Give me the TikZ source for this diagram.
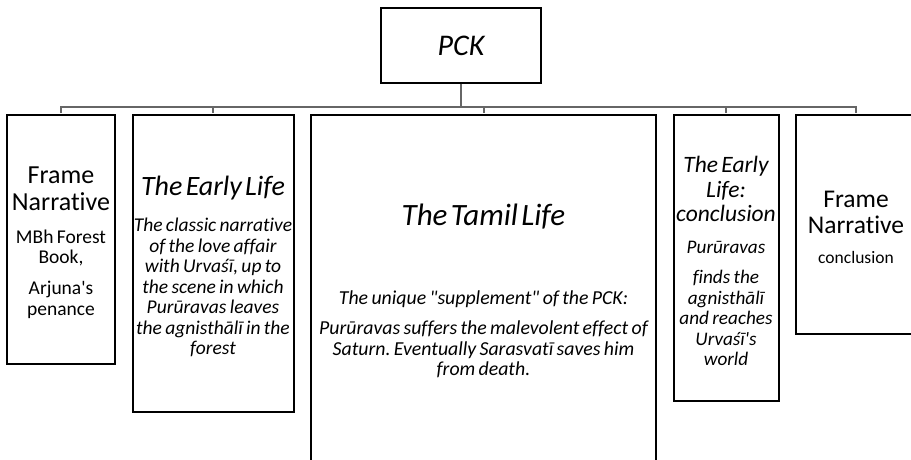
\documentclass[tikz,border=0pt]{standalone}
\usepackage{fontspec}
\setmainfont{Carlito}[Ligatures={TeXOff,CommonOff}]
\usetikzlibrary{positioning}
\newcommand{\sizeto}[2]{\fontsize{#1pt}{#2pt}\selectfont}
\frenchspacing
\tikzset{
    root/.style={draw, rectangle, line width=1.5pt, minimum width=160pt, minimum height=75pt, font=\sizeto{30}{34}\itshape},
    part/.style={draw, rectangle, line width=2pt, inner xsep=0pt, inner ysep=0pt, align=center, execute at end node={\par\vspace*{-6pt}}},
    link/.style={draw, line width=2pt, color=black!60}
}

\begin{document}
\begin{tikzpicture}[x=1pt, y=-1pt, node distance=15.5pt]
    \useasboundingbox (0,0) rectangle (911,459);
    \clip (0,0) rectangle (911,459);
    \node [root] (pck) at (461,45.5) {PCK};
    \node [part, minimum width=108pt, minimum height=249pt, text width=108pt, anchor=north west] (frame) at (6,114)
        {\sizeto{26}{27}Frame\\Narrative\par\vspace{12pt}\sizeto{19.5}{20.5}MBh Forest\\Book,\par\vspace{10.5pt}Arjuna's\\penance\par};
    \node [part, minimum width=161pt, minimum height=297pt, text width=161pt, right=of frame.north east, anchor=north west] (early)
        {\itshape\sizeto{28}{30}The Early Life\par\vspace{15.4pt}\sizeto{19.5}{20.5}The classic narrative\\of the love affair\\with Urvaśī, up to\\the scene in which\\Purūravas leaves\\the agnisthālī in the\\forest\par};
    \node [part, minimum width=345pt, minimum height=346pt, text width=345pt, right=of early.north east, anchor=north west] (tamil)
        {\itshape\sizeto{31}{33}The Tamil Life\par\vspace{58.5pt}\sizeto{19.8}{20.5}The unique "supplement" of the PCK:\par\vspace{9.5pt}Purūravas suffers the malevolent effect of\\Saturn. Eventually Sarasvatī saves him\\from death.\par};
    \node [part, minimum width=105pt, minimum height=286pt, text width=105pt, right=of tamil.north east, anchor=north west] (earlyend)
        {\itshape\sizeto{23.5}{24.5}The Early\\Life:\\conclusion\par\vspace{11.5pt}\sizeto{19.2}{20.5}Purūravas\par\vspace{9.5pt}finds the\\agnisthālī\\and reaches\\Urvaśī's\\world\par};
    \node [part, minimum width=120pt, minimum height=219pt, text width=120pt, right=of earlyend.north east, anchor=north west] (frameend)
        {\sizeto{25.5}{26}Frame\\Narrative\par\vspace{10.5pt}\sizeto{17.5}{19.5}conclusion\par};

    % tree connectors
    \coordinate (bus) at (0,106.5);
    \foreach \n in {frame, early, tamil, earlyend, frameend}
        \draw [link, shorten >=1pt] (pck.south) -- (pck.south |- bus) -| (\n.north);
\end{tikzpicture}
\end{document}
